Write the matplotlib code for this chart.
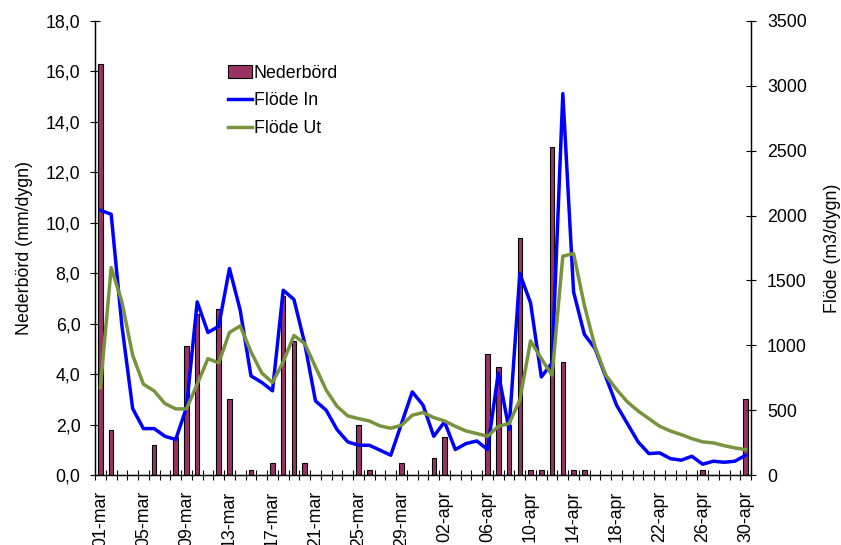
import numpy as np
import pandas as pd
import matplotlib
matplotlib.use("Agg")
import matplotlib.pyplot as plt
from matplotlib.ticker import FuncFormatter, MultipleLocator, FixedLocator

plt.rcParams['font.family'] = ['Liberation Sans', 'DejaVu Sans']
plt.rcParams['font.size'] = 12.8

# daily series 01-mar .. 30-apr
dates = pd.date_range("2009-03-01", "2009-04-30", freq="D")
month_names = {3: "mar", 4: "apr"}
day_labels = [f"{d.day:02d}-{month_names[d.month]}" for d in dates]

nederbord = [16.3, 1.8, 0, 0, 0, 1.2, 0, 1.5, 5.1, 6.4,
             0, 6.6, 3.0, 0, 0.2, 0, 0.5, 7.1, 5.3, 0.5,
             0, 0, 0, 0, 2.0, 0.2, 0, 0, 0.5, 0,
             0, 0.7, 1.5, 0, 0, 0, 4.8, 4.3, 2.0, 9.4,
             0.2, 0.2, 13.0, 4.5, 0.2, 0.2, 0, 0, 0, 0,
             0, 0, 0, 0, 0, 0, 0.2, 0, 0, 0, 3.0]

flode_in = [2040, 2010, 1150, 513, 359, 359, 300, 275, 520, 1335,
            1099, 1147, 1592, 1271, 765, 715, 650, 1425, 1353, 1014,
            572, 500, 352, 257, 231, 231, 193, 154, 398, 642,
            540, 300, 411, 198, 244, 264, 198, 788, 352, 1553,
            1327, 757, 865, 2939, 1412, 1085, 975, 757, 539, 398,
            257, 167, 172, 128, 116, 146, 85, 108, 100, 108, 154]

flode_ut = [675, 1599, 1335, 924, 701, 649, 552, 511, 511, 701,
            898, 865, 1099, 1150, 950, 788, 714, 873, 1076, 1014,
            834, 655, 531, 457, 436, 418, 380, 362, 385, 462,
            483, 444, 418, 377, 341, 321, 300, 377, 398, 578,
            1034, 898, 770, 1687, 1707, 1310, 988, 770, 660, 565,
            495, 436, 377, 341, 313, 282, 257, 249, 228, 210, 198]

x = np.arange(len(dates))

fig = plt.figure(figsize=(8.41, 5.45), dpi=100)
ax = fig.add_axes([0.113, 0.128, 0.78, 0.834])
ax2 = ax.twinx()

ax.bar(x, nederbord, width=0.42, color="#993366", edgecolor="black",
       linewidth=0.8, label="Nederbörd", zorder=2)
ax2.plot(x, flode_in, color="#0000FF", lw=2.5, label="Flöde In")
ax2.plot(x, flode_ut, color="#77933C", lw=2.5, label="Flöde Ut")

ax.set_xlim(-0.5, len(x) - 0.5)
ax.set_ylim(0, 18)
ax2.set_ylim(0, 3500)

ax.yaxis.set_major_locator(MultipleLocator(2))
ax.yaxis.set_major_formatter(FuncFormatter(lambda v, _: f"{v:.1f}".replace(".", ",")))
ax2.yaxis.set_major_locator(MultipleLocator(500))

# labels every fourth day, tick marks between the days
ax.set_xticks(x[::4])
ax.set_xticklabels(day_labels[::4], rotation=90)
ax.xaxis.set_minor_locator(FixedLocator(np.arange(-0.5, len(x), 1.0)))
ax.tick_params(axis="x", which="major", length=0, pad=11)
ax.tick_params(axis="x", which="minor", direction="inout", length=7, width=0.8)
ax.tick_params(axis="y", direction="inout", length=7, width=0.8, pad=7)
ax2.tick_params(axis="y", direction="inout", length=7, width=0.8, pad=8)

for a in (ax, ax2):
    a.spines["top"].set_visible(False)
    for s in ("left", "right", "bottom"):
        a.spines[s].set_linewidth(0.9)

ax.set_ylabel("Nederbörd (mm/dygn)", labelpad=9)
ax2.set_ylabel("Flöde (m3/dygn)", labelpad=12)

h1, l1 = ax.get_legend_handles_labels()
h2, l2 = ax2.get_legend_handles_labels()
ax2.legend(h1 + h2, l1 + l2, loc="upper left", bbox_to_anchor=(0.203, 0.903),
           frameon=False, handlelength=1.35, handletextpad=0.1,
           labelspacing=0.6, borderpad=0, borderaxespad=0, fontsize=12.8)

fig.savefig("out.png", dpi=100)
